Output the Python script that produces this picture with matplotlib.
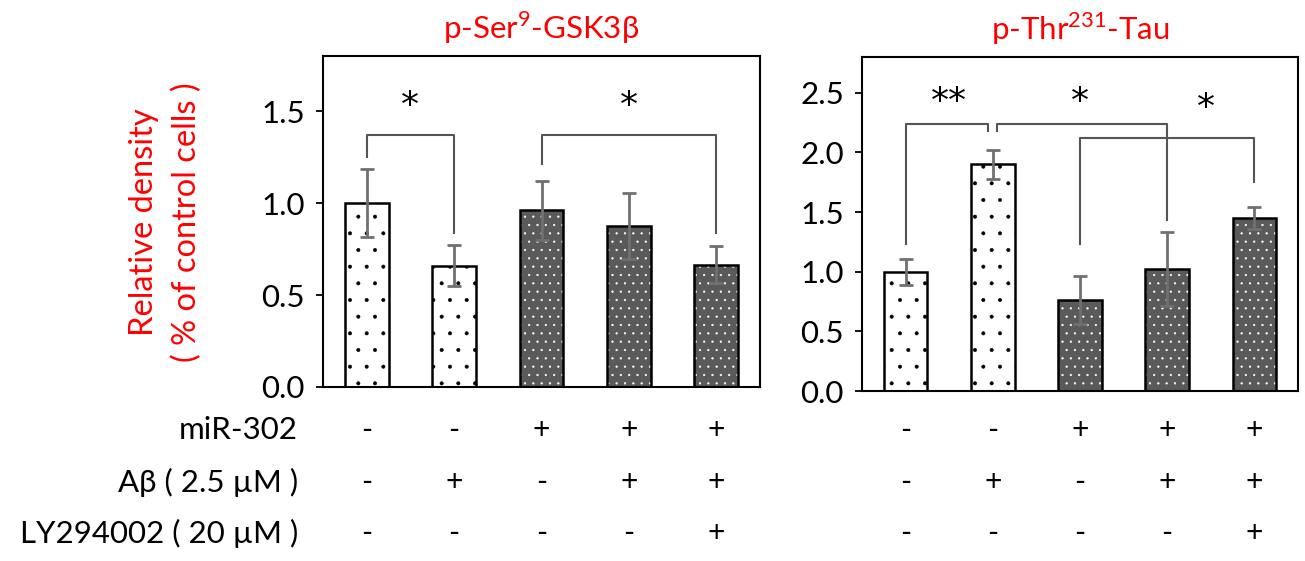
import numpy as np
import matplotlib
matplotlib.use("Agg")
import matplotlib.pyplot as plt
from matplotlib.transforms import blended_transform_factory

FS = 22.5
plt.rcParams.update({'font.family': ['Lato', 'DejaVu Sans'], 'font.size': FS,
                     'mathtext.fontset': 'custom', 'mathtext.rm': 'Lato',
                     'hatch.linewidth': 0.4})

RED = "#FF0000"; ERR = "#707070"; BRK = "#555555"; DARK = "#5a5a5a"

# data
ser_vals = [1.00, 0.66, 0.96, 0.875, 0.665]
ser_err = [0.185, 0.11, 0.16, 0.18, 0.10]
tau_vals = [1.00, 1.90, 0.76, 1.02, 1.45]
tau_err = [0.11, 0.12, 0.20, 0.31, 0.09]
mir = ['-', '-', '+', '+', '+']
abeta = ['-', '+', '-', '+', '+']
ly = ['-', '-', '-', '-', '+']
row_labels = ['miR-302', 'A\u03b2 ( 2.5 \u00b5M )', 'LY294002 ( 20 \u00b5M )']
dotted = [True, True, False, False, False]

fig = plt.figure(figsize=(13.05, 5.61), dpi=100)
fig.patch.set_facecolor('white')
ax1 = fig.add_axes([0.2475, 0.3102, 0.3349, 0.59])
ax2 = fig.add_axes([0.6605, 0.303, 0.3341, 0.5954])

def panel(ax, vals, err, ymax, ticks, title):
    x = np.arange(len(vals))
    for i in x:
        if dotted[i]:
            ax.bar(i, vals[i], 0.5, color='white', edgecolor='black', hatch='.', lw=0, zorder=2)
        else:
            ax.bar(i, vals[i], 0.5, color=DARK, edgecolor='white', hatch='..', lw=0, zorder=2)
    ax.bar(x, vals, 0.5, fill=False, edgecolor='black', lw=1.8, zorder=3)
    ax.errorbar(x, vals, yerr=err, fmt='none', ecolor=ERR, elinewidth=2, capsize=5, capthick=2, zorder=4)
    ax.set_xlim(-0.5, 4.5); ax.set_ylim(0, ymax)
    ax.set_yticks(ticks); ax.set_yticklabels(['%.1f' % t for t in ticks])
    ax.set_xticks([])
    ax.tick_params(axis='y', direction='out', length=5, width=1.3, pad=8, labelsize=FS)
    for s in ax.spines.values():
        s.set_linewidth(1.5)
    ax.set_title(title, color=RED, fontsize=FS, pad=12)
    tr = blended_transform_factory(ax.transData, fig.transFigure)
    for yy, row in zip([0.2335, 0.1408, 0.0499], [mir, abeta, ly]):
        for i, s in enumerate(row):
            ax.text(i, yy, s, transform=tr, ha='center', va='center', fontsize=FS - 1)

def bracket(ax, x0, y0, x1, y1, top):
    ax.plot([x0, x0, x1, x1], [y0, top, top, y1], color=BRK, lw=1.5, zorder=5)

def star(ax, x, y, s):
    ax.text(x, y, s, ha='center', va='center', fontsize=26, family='DejaVu Sans')

panel(ax1, ser_vals, ser_err, 1.8, [0, 0.5, 1.0, 1.5], r'p-Ser$^{9}$-GSK3β')
bracket(ax1, 0, 1.25, 1, 0.84, 1.37)
bracket(ax1, 2, 1.21, 4, 0.84, 1.37)
star(ax1, 0.5, 1.53, '*')
star(ax1, 3.0, 1.53, '*')

panel(ax2, tau_vals, tau_err, 2.8, [0, 0.5, 1.0, 1.5, 2.0, 2.5], r'p-Thr$^{231}$-Tau')
bracket(ax2, 0, 1.23, 0.95, 2.18, 2.24)
bracket(ax2, 1.05, 2.18, 3, 1.43, 2.24)
bracket(ax2, 2, 1.23, 4, 1.75, 2.12)
star(ax2, 0.5, 2.42, '**')
star(ax2, 2.0, 2.42, '*')
star(ax2, 3.45, 2.37, '*')

for yy, lab in zip([0.2335, 0.1408, 0.0499], row_labels):
    fig.text(0.2284, yy, lab, ha='right', va='center', fontsize=FS)

fig.text(0.127, 0.604, 'Relative density\n( % of control cells )', rotation=90,
         ha='center', va='center', color=RED, fontsize=FS + 1, linespacing=1.5, multialignment='center')

fig.savefig('out.png', dpi=100, facecolor='white')
